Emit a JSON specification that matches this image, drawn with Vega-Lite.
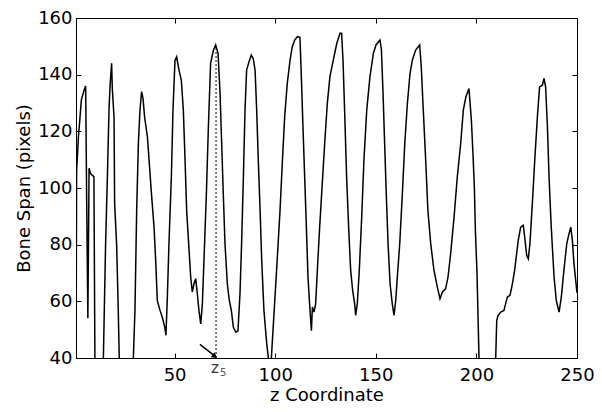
{
  "$schema": "https://vega.github.io/schema/vega-lite/v6.json",
  "width": 501,
  "height": 340,
  "autosize": {"type": "none"},
  "padding": {"left": 76, "top": 18, "right": 25, "bottom": 54},
  "background": "white",
  "config": {
    "view": {"stroke": "black", "strokeWidth": 1},
    "font": "DejaVu Sans",
    "axis": {
      "grid": false,
      "domainColor": "black",
      "domainWidth": 1,
      "tickColor": "black",
      "tickSize": 5,
      "tickWidth": 1,
      "labelFont": "DejaVu Sans",
      "labelFontSize": 18,
      "labelColor": "black",
      "labelFlush": false,
      "labelOverlap": false,
      "titleFont": "DejaVu Sans",
      "titleFontSize": 18,
      "titleFontWeight": "normal",
      "titleColor": "black"
    }
  },
  "datasets": {
    "span": [
      {"z": 1, "v": 30}, {"z": 1.3, "v": 106}, {"z": 2.2, "v": 118}, {"z": 3.0, "v": 125}, {"z": 3.65, "v": 131}, {"z": 5.0, "v": 134.5}, {"z": 5.8, "v": 136}, {"z": 6.3, "v": 96}, {"z": 6.9, "v": 54}, {"z": 7.5, "v": 107}, {"z": 8.3, "v": 105}, {"z": 9.9, "v": 104}, {"z": 10.4, "v": 40}, {"z": 10.6, "v": 30}, {"z": 14.2, "v": 30}, {"z": 14.6, "v": 40}, {"z": 15.7, "v": 80}, {"z": 16.6, "v": 104}, {"z": 17.4, "v": 127.5}, {"z": 17.9, "v": 135.7}, {"z": 18.2, "v": 139}, {"z": 18.7, "v": 144}, {"z": 19.05, "v": 135}, {"z": 19.9, "v": 125}, {"z": 20.2, "v": 94.5}, {"z": 21.2, "v": 80}, {"z": 22.0, "v": 57}, {"z": 22.5, "v": 40}, {"z": 23, "v": 30}, {"z": 29, "v": 30}, {"z": 29.5, "v": 40}, {"z": 30.3, "v": 56.8}, {"z": 31.15, "v": 92}, {"z": 32.0, "v": 115.7}, {"z": 32.8, "v": 127.5}, {"z": 33.6, "v": 134}, {"z": 34.3, "v": 131.6}, {"z": 35.1, "v": 125}, {"z": 36.5, "v": 118}, {"z": 37.3, "v": 110}, {"z": 38.4, "v": 99}, {"z": 39.8, "v": 86}, {"z": 40.6, "v": 74.5}, {"z": 41.4, "v": 60.3}, {"z": 42.75, "v": 56.8}, {"z": 43.9, "v": 54.4}, {"z": 45.1, "v": 50.9}, {"z": 45.7, "v": 48}, {"z": 46.4, "v": 61.5}, {"z": 47.2, "v": 80.3}, {"z": 48.4, "v": 104}, {"z": 49.2, "v": 127.5}, {"z": 50.2, "v": 145}, {"z": 51.0, "v": 146.3}, {"z": 52.2, "v": 141.6}, {"z": 53.35, "v": 138}, {"z": 54.35, "v": 127.5}, {"z": 55.2, "v": 109.8}, {"z": 56.0, "v": 92}, {"z": 57.2, "v": 78}, {"z": 58.0, "v": 68.6}, {"z": 58.8, "v": 63.3}, {"z": 59.65, "v": 66.2}, {"z": 60.5, "v": 68}, {"z": 61.3, "v": 62.7}, {"z": 62.1, "v": 56.8}, {"z": 63.0, "v": 52}, {"z": 63.8, "v": 59.1}, {"z": 64.6, "v": 74.5}, {"z": 65.8, "v": 98}, {"z": 66.8, "v": 121.6}, {"z": 67.9, "v": 144}, {"z": 69.3, "v": 148.7}, {"z": 70.4, "v": 150.5}, {"z": 71.6, "v": 147.5}, {"z": 72.6, "v": 133.4}, {"z": 73.4, "v": 115.7}, {"z": 74.2, "v": 98}, {"z": 75.05, "v": 80.4}, {"z": 76.2, "v": 66.2}, {"z": 77.2, "v": 60.3}, {"z": 78.2, "v": 56.8}, {"z": 79.2, "v": 50.9}, {"z": 80.4, "v": 49.1}, {"z": 81.5, "v": 49.6}, {"z": 82.5, "v": 62.7}, {"z": 83.3, "v": 80.3}, {"z": 84.2, "v": 104}, {"z": 85.0, "v": 127.5}, {"z": 85.8, "v": 141.6}, {"z": 87.0, "v": 144.6}, {"z": 88.1, "v": 146.9}, {"z": 89.1, "v": 145.7}, {"z": 90.0, "v": 141.6}, {"z": 90.8, "v": 127.5}, {"z": 91.6, "v": 109.8}, {"z": 92.5, "v": 92.1}, {"z": 93.3, "v": 74.5}, {"z": 94.4, "v": 56.8}, {"z": 95.8, "v": 45}, {"z": 96.6, "v": 40}, {"z": 97.3, "v": 36}, {"z": 98.1, "v": 40}, {"z": 99.5, "v": 56.8}, {"z": 100.7, "v": 71}, {"z": 102.4, "v": 92}, {"z": 103.6, "v": 109.8}, {"z": 104.7, "v": 125}, {"z": 106.0, "v": 136.9}, {"z": 107.4, "v": 145.2}, {"z": 108.5, "v": 149.9}, {"z": 109.7, "v": 152.2}, {"z": 111.0, "v": 153.4}, {"z": 112.3, "v": 153.2}, {"z": 113.0, "v": 139.3}, {"z": 113.8, "v": 121.6}, {"z": 114.65, "v": 103.9}, {"z": 115.5, "v": 86.2}, {"z": 116.3, "v": 68.6}, {"z": 117.1, "v": 59.1}, {"z": 118.0, "v": 49.6}, {"z": 118.5, "v": 58}, {"z": 119.3, "v": 56.2}, {"z": 120.1, "v": 59.1}, {"z": 120.95, "v": 71}, {"z": 122.1, "v": 86.2}, {"z": 123.4, "v": 101.6}, {"z": 124.6, "v": 115.7}, {"z": 125.9, "v": 129.8}, {"z": 127.2, "v": 139.3}, {"z": 128.9, "v": 145.2}, {"z": 130.6, "v": 151}, {"z": 132.2, "v": 154.6}, {"z": 133.0, "v": 154.6}, {"z": 133.7, "v": 145.2}, {"z": 134.5, "v": 127.5}, {"z": 135.5, "v": 103.9}, {"z": 136.5, "v": 86.2}, {"z": 137.5, "v": 71}, {"z": 138.5, "v": 63.9}, {"z": 139.5, "v": 59.1}, {"z": 140.0, "v": 55}, {"z": 140.8, "v": 59.1}, {"z": 141.8, "v": 71}, {"z": 143.0, "v": 89.8}, {"z": 144.1, "v": 109.8}, {"z": 145.5, "v": 127.5}, {"z": 147.1, "v": 139.3}, {"z": 148.8, "v": 147.5}, {"z": 150.1, "v": 150.5}, {"z": 152.1, "v": 152.2}, {"z": 152.8, "v": 148.7}, {"z": 153.6, "v": 133.4}, {"z": 154.4, "v": 115.7}, {"z": 155.2, "v": 98}, {"z": 156.1, "v": 80.3}, {"z": 157.1, "v": 66.2}, {"z": 158.2, "v": 59.1}, {"z": 159.05, "v": 55}, {"z": 159.9, "v": 60.3}, {"z": 160.7, "v": 68.6}, {"z": 161.9, "v": 80.3}, {"z": 163.2, "v": 98}, {"z": 164.4, "v": 115.7}, {"z": 165.7, "v": 129.8}, {"z": 167.0, "v": 140.4}, {"z": 168.2, "v": 145.2}, {"z": 169.8, "v": 148.7}, {"z": 171.8, "v": 150.5}, {"z": 172.6, "v": 142.8}, {"z": 173.6, "v": 127.5}, {"z": 174.8, "v": 109.8}, {"z": 175.9, "v": 92}, {"z": 177.3, "v": 80.3}, {"z": 178.9, "v": 71}, {"z": 180.6, "v": 65}, {"z": 181.9, "v": 60.9}, {"z": 183.1, "v": 63.3}, {"z": 184.7, "v": 64.4}, {"z": 185.9, "v": 68.6}, {"z": 187.2, "v": 76.8}, {"z": 188.9, "v": 89.8}, {"z": 190.5, "v": 103.9}, {"z": 192.2, "v": 115.7}, {"z": 193.5, "v": 127.5}, {"z": 194.8, "v": 132.2}, {"z": 196.3, "v": 135.1}, {"z": 197.5, "v": 124}, {"z": 198.3, "v": 112}, {"z": 199.0, "v": 100}, {"z": 199.5, "v": 85}, {"z": 200.3, "v": 70}, {"z": 200.8, "v": 55}, {"z": 201.3, "v": 40}, {"z": 202, "v": 30}, {"z": 209, "v": 30}, {"z": 209.6, "v": 40}, {"z": 210.1, "v": 53.2}, {"z": 210.75, "v": 55}, {"z": 212.1, "v": 56.2}, {"z": 213.7, "v": 56.8}, {"z": 214.5, "v": 59.1}, {"z": 215.4, "v": 61.5}, {"z": 216.7, "v": 62.1}, {"z": 217.9, "v": 66.2}, {"z": 219.0, "v": 71}, {"z": 220.0, "v": 76.8}, {"z": 220.8, "v": 81.5}, {"z": 222.0, "v": 86.2}, {"z": 223.3, "v": 86.8}, {"z": 224.0, "v": 82.7}, {"z": 225.0, "v": 76.2}, {"z": 225.8, "v": 75}, {"z": 226.6, "v": 80.3}, {"z": 227.8, "v": 94.5}, {"z": 229.0, "v": 109.8}, {"z": 230.3, "v": 125}, {"z": 231.4, "v": 135.7}, {"z": 232.8, "v": 136.3}, {"z": 233.6, "v": 138.7}, {"z": 234.4, "v": 135.7}, {"z": 235.3, "v": 121.6}, {"z": 236.1, "v": 103.9}, {"z": 237.2, "v": 86.2}, {"z": 238.6, "v": 68.6}, {"z": 239.7, "v": 60.3}, {"z": 241.1, "v": 56.2}, {"z": 242.2, "v": 61.5}, {"z": 243.5, "v": 71}, {"z": 244.9, "v": 80.3}, {"z": 246.0, "v": 83.8}, {"z": 246.9, "v": 86.2}, {"z": 247.7, "v": 81.5}, {"z": 248.5, "v": 73.3}, {"z": 250, "v": 63}
    ],
    "marker": [{"z": 70.6, "peak": 150.3, "base": 40}],
    "arrow": [{"z": 62.6, "v": 44.8, "z2": 69.6, "v2": 40.9}],
    "arrowhead": [{"z": 70.0, "v": 40.6}]
  },
  "layer": [
    {
      "data": {"name": "span"},
      "mark": {"type": "line", "color": "black", "strokeWidth": 1.5, "clip": true},
      "encoding": {
        "x": {"field": "z", "type": "quantitative", "scale": {"domain": [1, 250], "nice": false, "zero": false},
              "axis": {"orient": "bottom", "values": [50, 100, 150, 200, 250], "title": "z Coordinate", "ticks": false, "tickSize": 0, "labelPadding": 8, "titlePadding": 2}},
        "y": {"field": "v", "type": "quantitative", "scale": {"domain": [40, 160], "nice": false, "zero": false},
              "axis": {"orient": "left", "values": [40, 60, 80, 100, 120, 140, 160], "title": "Bone Span (pixels)", "ticks": false, "tickSize": 0, "labelPadding": 4, "titlePadding": 4}}
      }
    },
    {
      "data": {"name": "marker"},
      "mark": {"type": "rule", "color": "black", "strokeWidth": 1, "strokeDash": [2, 2]},
      "encoding": {
        "x": {"field": "z", "type": "quantitative", "scale": {"domain": [1, 250], "nice": false, "zero": false},
              "axis": {"orient": "top", "offset": -340, "domain": false, "values": [50, 100, 150, 200, 250], "labels": false, "title": null}},
        "y": {"field": "base", "type": "quantitative", "scale": {"domain": [40, 160], "nice": false, "zero": false},
              "axis": {"orient": "right", "offset": -501, "domain": false, "values": [40, 60, 80, 100, 120, 140, 160], "labels": false, "title": null}},
        "y2": {"field": "peak"}
      }
    },
    {
      "data": {"name": "marker"},
      "mark": {"type": "text", "text": "z", "fontSize": 15, "color": "#333", "baseline": "top", "align": "center", "dy": 3, "dx": -1},
      "encoding": {
        "x": {"field": "z", "type": "quantitative", "scale": {"domain": [1, 250], "nice": false, "zero": false},
              "axis": {"orient": "bottom", "offset": -340, "domain": false, "values": [50, 100, 150, 200, 250], "labels": false, "title": null}},
        "y": {"field": "base", "type": "quantitative", "scale": {"domain": [40, 160], "nice": false, "zero": false},
              "axis": {"orient": "left", "offset": -501, "domain": false, "values": [40, 60, 80, 100, 120, 140, 160], "labels": false, "title": null}}
      }
    },
    {
      "data": {"name": "marker"},
      "mark": {"type": "text", "text": "5", "fontSize": 10, "color": "#555", "baseline": "top", "align": "left", "dy": 10, "dx": 4},
      "encoding": {
        "x": {"field": "z", "type": "quantitative", "scale": {"domain": [1, 250], "nice": false, "zero": false}, "axis": null},
        "y": {"field": "base", "type": "quantitative", "scale": {"domain": [40, 160], "nice": false, "zero": false}, "axis": null}
      }
    },
    {
      "data": {"name": "arrow"},
      "mark": {"type": "rule", "color": "black", "strokeWidth": 1.5},
      "encoding": {
        "x": {"field": "z", "type": "quantitative", "scale": {"domain": [1, 250], "nice": false, "zero": false}, "axis": null},
        "y": {"field": "v", "type": "quantitative", "scale": {"domain": [40, 160], "nice": false, "zero": false}, "axis": null},
        "x2": {"field": "z2"},
        "y2": {"field": "v2"}
      }
    },
    {
      "data": {"name": "arrowhead"},
      "mark": {"type": "point", "shape": "triangle-right", "filled": true, "color": "black", "size": 40, "angle": 37, "opacity": 1},
      "encoding": {
        "x": {"field": "z", "type": "quantitative", "scale": {"domain": [1, 250], "nice": false, "zero": false}, "axis": null},
        "y": {"field": "v", "type": "quantitative", "scale": {"domain": [40, 160], "nice": false, "zero": false}, "axis": null}
      }
    }
  ],
  "resolve": {"axis": {"x": "independent", "y": "independent"}}
}
